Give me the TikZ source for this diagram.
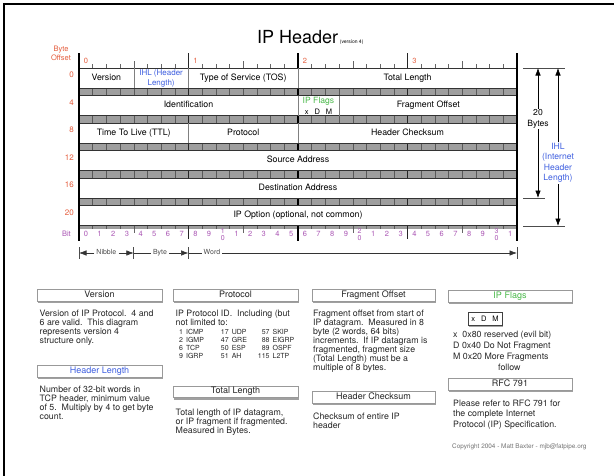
\documentclass[tikz,border=0pt]{standalone}
\usepackage{fontspec}
\setmainfont{TeX Gyre Heros}
\usetikzlibrary{arrows.meta,shadows}

\definecolor{offsetred}{RGB}{228,92,60}
\definecolor{ihlblue}{RGB}{64,96,224}
\definecolor{flaggreen}{RGB}{72,184,72}
\definecolor{bitpurple}{RGB}{170,86,180}

\newcommand{\fsz}[2]{\fontsize{#1}{#2}\selectfont}

\tikzset{
  rowbox/.style={draw=black!80,fill=white,line width=0.7pt},
  divider/.style={draw=black!50,line width=0.5pt},
  stripe/.style={fill=black!38},
  stripetick/.style={draw=black!65,line width=0.5pt},
  rulertick/.style={draw=black!60,line width=0.5pt},
  bytebar/.style={draw=black!85,line width=1pt},
  wordbar/.style={draw=black,line width=2pt},
  celltext/.style={font=\fsz{8.8}{10},text height=6.4pt,text depth=1.8pt},
  offsetnum/.style={font=\fsz{8}{9},text=offsetred,anchor=east},
  bytenum/.style={font=\fsz{7.5}{9},text=offsetred},
  bitnum/.style={font=\fsz{7.5}{9},text=bitpurple},
  bitstack/.style={font=\fsz{7}{7},text=bitpurple,align=center},
  sizearrow/.style={-{Latex[length=7.5pt,width=5.5pt]},line width=0.6pt},
  guideline/.style={draw=black!70,line width=0.6pt},
  sizetext/.style={font=\fsz{8.6}{10.5},align=center,fill=white,inner sep=1pt},
  spanline/.style={draw=black!80,line width=0.6pt},
  spanlabel/.style={font=\fsz{7}{8},text=black!70,inner xsep=2pt,inner ysep=1pt,
    text height=5pt,text depth=1.5pt},
  panelhead/.style={draw=black!40,fill=white,minimum height=11.5pt,font=\fsz{9}{10},
    text height=6.4pt,text depth=1.8pt,text=black!85,
    drop shadow={shadow xshift=0.6pt,shadow yshift=-2.4pt,opacity=0.75}},
  bitsbox/.style={draw=black!75,fill=white,minimum width=34pt,minimum height=13pt,
    font=\fsz{7.5}{9},drop shadow={shadow xshift=0.6pt,shadow yshift=-1.8pt,opacity=0.7}},
  paneltext/.style={anchor=north west,align=left,font=\fsz{8.8}{9},text=black!85},
}

\begin{document}
\begin{tikzpicture}[x=1pt,y=-1pt,every node/.append style={inner sep=0pt}]
  \useasboundingbox (0,0) rectangle (614,475);
  \draw[line width=2pt] (4.3,480) -- (4.3,4.3) -- (620,4.3);

  \node[anchor=base west] (title) at (257,43) {{\fsz{18}{20}IP Header}\,{\fsz{5}{6}(version 4)}};
  \node[font=\fsz{7.5}{9},text=offsetred,align=center] (byteoff) at (61,53.5) {Byte\\Offset};

  % ruler above the header
  \foreach \i in {1,...,31}{
    \pgfmathsetmacro\tickh{ifthenelse(mod(\i,4)==0,7,4)}
    \draw[rulertick] ({79+13.6875*\i},68) -- ++(0,-\tickh);
  }
  \foreach \i in {8,24} \draw[bytebar] ({79+13.6875*\i},68) -- ++(0,-15);
  \draw[wordbar] (298,53) -- (298,68);
  \foreach \b in {0,...,3} \node[bytenum] (byte\b) at ({86+109.5*\b},61) {\b};

  % header rows
  \foreach \r/\off in {0/0,1/4,2/8,3/12,4/16,5/20}{
    \pgfmathsetmacro\yt{68+27.5*\r}
    \pgfmathsetmacro\sh{ifthenelse(\r==5,3,7.5)}
    \fill[stripe] (79,{\yt+20}) rectangle (517,{\yt+20+\sh});
    \foreach \i in {1,...,31} \draw[stripetick] ({79+13.6875*\i},{\yt+20}) -- ++(0,\sh);
    \foreach \i in {8,24} \draw[bytebar] ({79+13.6875*\i},{\yt+20}) -- ++(0,\sh);
    \draw[wordbar] (298,{\yt+20}) -- ++(0,\sh);
    \draw[rowbox] (79,\yt) rectangle (517,{\yt+20});
    \node[offsetnum] (off\off) at (74,{\yt+7}) {\off};
  }
  \foreach \i/\r in {4/0,8/0,16/0,16/1,19/1,8/2,16/2}{
    \pgfmathsetmacro\yt{68+27.5*\r}
    \draw[divider] ({79+13.6875*\i},\yt) -- ++(0,20);
  }
  \draw[wordbar] (79,53) -- (79,241);
  \draw[wordbar] (517,53) -- (517,241);

  % ruler below
  \foreach \i in {4,12,20,28} \draw[rulertick] ({79+13.6875*\i},228.5) -- ++(0,4);
  \foreach \i in {8,24} \draw[bytebar] ({79+13.6875*\i},228.5) -- ++(0,10);
  \draw[wordbar] (298,228.5) -- (298,241);

  \node[celltext] (version) at (106.4,78) {Version};
  \node[font=\fsz{8}{10},text=ihlblue,align=center] (ihl) at (161.1,78.3) {IHL (Header\\Length)};
  \node[celltext] (tos) at (243.25,78) {Type of Service (TOS)};
  \node[celltext] (totlen) at (407.5,78) {Total Length};
  \node[celltext] (ident) at (188.5,105.5) {Identification};
  \node[font=\fsz{8.6}{10},text=flaggreen] (flagname) at (318.5,101) {IP Flags};
  \node[font=\fsz{7.5}{9}] (flagbits) at (318.5,111.3) {x\hspace{6pt}D\hspace{6pt}M};
  \node[celltext] (fragoff) at (428.3,105.5) {Fragment Offset};
  \node[celltext] (ttl) at (133.75,133) {Time To Live (TTL)};
  \node[celltext] (proto) at (243.25,133) {Protocol};
  \node[celltext] (hcsum) at (407.5,133) {Header Checksum};
  \node[celltext] (srcaddr) at (298,160.5) {Source Address};
  \node[celltext] (dstaddr) at (298,188) {Destination Address};
  \node[celltext] (ipopt) at (298,215.5) {IP Option (optional, not common)};

  \node[bitnum,anchor=east] (bitlbl) at (71,233.5) {Bit};
  \foreach \i in {0,...,31}{
    \pgfmathtruncatemacro\digit{mod(\i,10)}
    \pgfmathtruncatemacro\tens{floor(\i/10)}
    \pgfmathtruncatemacro\stack{and(\digit==0,\i>0)}
    \ifnum\stack=1
      \node[bitstack] (bit\i) at ({79+13.6875*(\i+0.5)},234.5) {\tens\\0};
    \else
      \node[bitnum] (bit\i) at ({79+13.6875*(\i+0.5)},233.5) {\digit};
    \fi
  }

  % nibble, byte, word
  \coordinate (span0) at (79,253);
  \coordinate (span1) at (133.75,253);
  \coordinate (span2) at (188.5,253);
  \coordinate (span3) at (517,253);
  \foreach \c in {0,...,3} \draw[guideline] (span\c) ++(0,-6) -- ++(0,12);
  \node[spanlabel] (nibble) at (106.4,253) {Nibble};
  \node[spanlabel] (byte) at (160,253) {Byte};
  \node[spanlabel] (word) at (212,253) {Word};
  \draw[spanline,sizearrow] (nibble) -- (span0);
  \draw[spanline,sizearrow] (nibble) -- (span1);
  \draw[spanline] (span1) -- (byte);
  \draw[spanline,sizearrow] (byte) -- (span2);
  \draw[spanline] (span2) -- (word);
  \draw[spanline,sizearrow] (word) -- (span3);

  % sizes at the right
  \draw[guideline] (523,68) -- (565,68);
  \draw[guideline] (523,198) -- (545,198);
  \draw[guideline] (523,226) -- (565,226);
  \coordinate (twentytop) at (538,68);
  \coordinate (twentybot) at (538,198);
  \coordinate (ihltop) at (558,68);
  \coordinate (ihlbot) at (558,226);
  \node[sizetext] (twenty) at (538,119) {20\\Bytes};
  \node[sizetext,text=ihlblue] (ihlspan) at (558,163) {IHL\\(Internet\\Header\\Length)};
  \draw[sizearrow] (twenty) -- (twentytop);
  \draw[sizearrow] (twenty) -- (twentybot);
  \draw[sizearrow] (ihlspan) -- (ihltop);
  \draw[sizearrow] (ihlspan) -- (ihlbot);

  % notes
  \node[panelhead,minimum width=125pt] (hdver) at (99.5,295) {Version};
  \node[paneltext] (txver) at (39.5,309.4) {Version of IP Protocol.\ \ 4 and\\6 are valid.\ \ This diagram\\represents version 4\\structure only.};
  \node[panelhead,minimum width=125pt,text=ihlblue] (hdhlen) at (99.5,371) {Header Length};
  \node[paneltext] (txhlen) at (39.5,385.4) {Number of 32-bit words in\\TCP header, minimum value\\of 5.\ \ Multiply by 4 to get byte\\count.};

  \node[panelhead,minimum width=125pt] (hdproto) at (235.5,295) {Protocol};
  \node[paneltext] (txproto) at (175.5,309.4) {IP Protocol ID.\ \ Including (but\\not limited to:};
  \node[anchor=north west,font=\fsz{7}{8},text=black!85] (prototab) at (179,328.5)
    {\begin{tabular}{@{}r@{\hspace{3pt}}l@{\hspace{17pt}}r@{\hspace{3pt}}l@{\hspace{11pt}}r@{\hspace{3pt}}l@{}}
      1&ICMP&17&UDP&57&SKIP\\2&IGMP&47&GRE&88&EIGRP\\6&TCP&50&ESP&89&OSPF\\9&IGRP&51&AH&115&L2TP
     \end{tabular}};
  \node[panelhead,minimum width=125pt] (hdtotlen) at (235.5,391.5) {Total Length};
  \node[paneltext] (txtotlen) at (175.5,408.4) {Total length of IP datagram,\\or IP fragment if fragmented.\\Measured in Bytes.};

  \node[panelhead,minimum width=123pt] (hdfrag) at (373.5,295) {Fragment Offset};
  \node[paneltext] (txfrag) at (313,309.4) {Fragment offset from start of\\IP datagram.\ \ Measured in 8\\byte (2 words, 64 bits)\\increments.\ \ If IP datagram is\\fragmented, fragment size\\(Total Length) must be a\\multiple of 8 bytes.};
  \node[panelhead,minimum width=123pt] (hdcsum) at (373.5,397) {Header Checksum};
  \node[paneltext] (txcsum) at (313,412.4) {Checksum of entire IP\\header};

  \node[panelhead,minimum width=124pt,text=flaggreen] (hdflags) at (510,296) {IP Flags};
  \node[bitsbox] (flagbox) at (485,318.5) {x\hspace{6pt}D\hspace{6pt}M};
  \node[paneltext,font=\fsz{8.8}{11}] (txflags) at (453,331) {x\ \ 0x80 reserved (evil bit)\\D 0x40 Do Not Fragment\\M 0x20 More Fragments\\\hspace{45pt}follow};
  \node[panelhead,minimum width=124pt] (hdrfc) at (510,384) {RFC 791};
  \node[paneltext,font=\fsz{8.8}{10.5}] (txrfc) at (453,399.4) {Please refer to RFC 791 for\\the complete Internet\\Protocol (IP) Specification.};
  \node[anchor=west,font=\fsz{6.4}{7},text=black!55] (copyright) at (452,447) {Copyright 2004 - Matt Baxter - mjb@fatpipe.org};
\end{tikzpicture}
\end{document}
